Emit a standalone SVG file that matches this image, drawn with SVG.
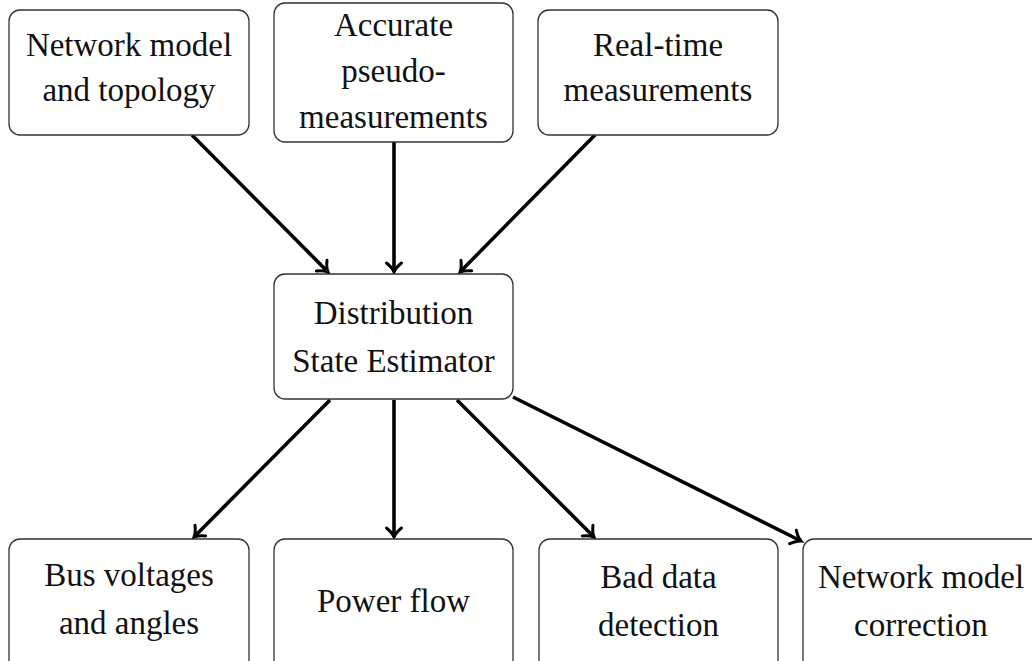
<svg xmlns="http://www.w3.org/2000/svg" width="1032" height="661" viewBox="0 0 1032 661">
  <style>
    .box { fill: #ffffff; stroke: #333333; stroke-width: 1.3; }
    .lbl { font-family: "Liberation Serif", "Times New Roman", serif; font-size: 33px; fill: #111111; text-anchor: middle; }
    .edge { stroke: #000000; stroke-width: 3.6; fill: none; marker-end: url(#to); }
  </style>
  <defs>
    <!-- open curved "to" arrowhead -->
    <marker id="to" markerUnits="userSpaceOnUse" viewBox="-12 -10 14 20" markerWidth="14" markerHeight="20" refX="0" refY="0" orient="auto" overflow="visible">
      <path d="M-9,-7.5 C-5.5,-3.2 -2.2,-0.9 0,0 C-2.2,0.9 -5.5,3.2 -9,7.5" fill="none" stroke="#000000" stroke-width="3" stroke-linecap="round"/>
    </marker>
  </defs>

  <rect width="1032" height="661" fill="#ffffff"/>

  <!-- connectors -->
  <g id="connectors">
    <line class="edge" x1="192" y1="135" x2="328" y2="272"/>
    <line class="edge" x1="394" y1="142" x2="394" y2="272"/>
    <line class="edge" x1="595" y1="135" x2="460" y2="272"/>
    <line class="edge" x1="330" y1="400" x2="194" y2="537"/>
    <line class="edge" x1="394" y1="400" x2="394" y2="537"/>
    <line class="edge" x1="457" y1="400" x2="594" y2="537"/>
    <line class="edge" x1="513" y1="397" x2="801" y2="541"/>
  </g>

  <!-- input nodes -->
  <g id="network-model">
    <rect class="box" x="9" y="10" width="240" height="125" rx="11"/>
    <text class="lbl" x="129" y="56">Network model</text>
    <text class="lbl" x="129" y="101">and topology</text>
  </g>
  <g id="pseudo-measurements">
    <rect class="box" x="274" y="3" width="239" height="139" rx="11"/>
    <text class="lbl" x="393.5" y="36">Accurate</text>
    <text class="lbl" x="393.5" y="82">pseudo-</text>
    <text class="lbl" x="393.5" y="128">measurements</text>
  </g>
  <g id="real-time">
    <rect class="box" x="538" y="10" width="240" height="125" rx="11"/>
    <text class="lbl" x="658" y="56">Real-time</text>
    <text class="lbl" x="658" y="101">measurements</text>
  </g>

  <!-- estimator -->
  <g id="estimator">
    <rect class="box" x="274" y="274" width="239" height="125" rx="11"/>
    <text class="lbl" x="393.5" y="324">Distribution</text>
    <text class="lbl" x="393.5" y="372">State Estimator</text>
  </g>

  <!-- output nodes -->
  <g id="bus-voltages">
    <rect class="box" x="9" y="539" width="240" height="140" rx="11"/>
    <text class="lbl" x="129" y="586">Bus voltages</text>
    <text class="lbl" x="129" y="634">and angles</text>
  </g>
  <g id="power-flow">
    <rect class="box" x="274" y="539" width="239" height="140" rx="11"/>
    <text class="lbl" x="393.5" y="612">Power flow</text>
  </g>
  <g id="bad-data">
    <rect class="box" x="539" y="539" width="239" height="140" rx="11"/>
    <text class="lbl" x="658.5" y="588">Bad data</text>
    <text class="lbl" x="658.5" y="636">detection</text>
  </g>
  <g id="model-correction">
    <rect class="box" x="803" y="539" width="240" height="140" rx="11"/>
    <text class="lbl" x="921" y="588">Network model</text>
    <text class="lbl" x="921" y="636">correction</text>
  </g>
</svg>
